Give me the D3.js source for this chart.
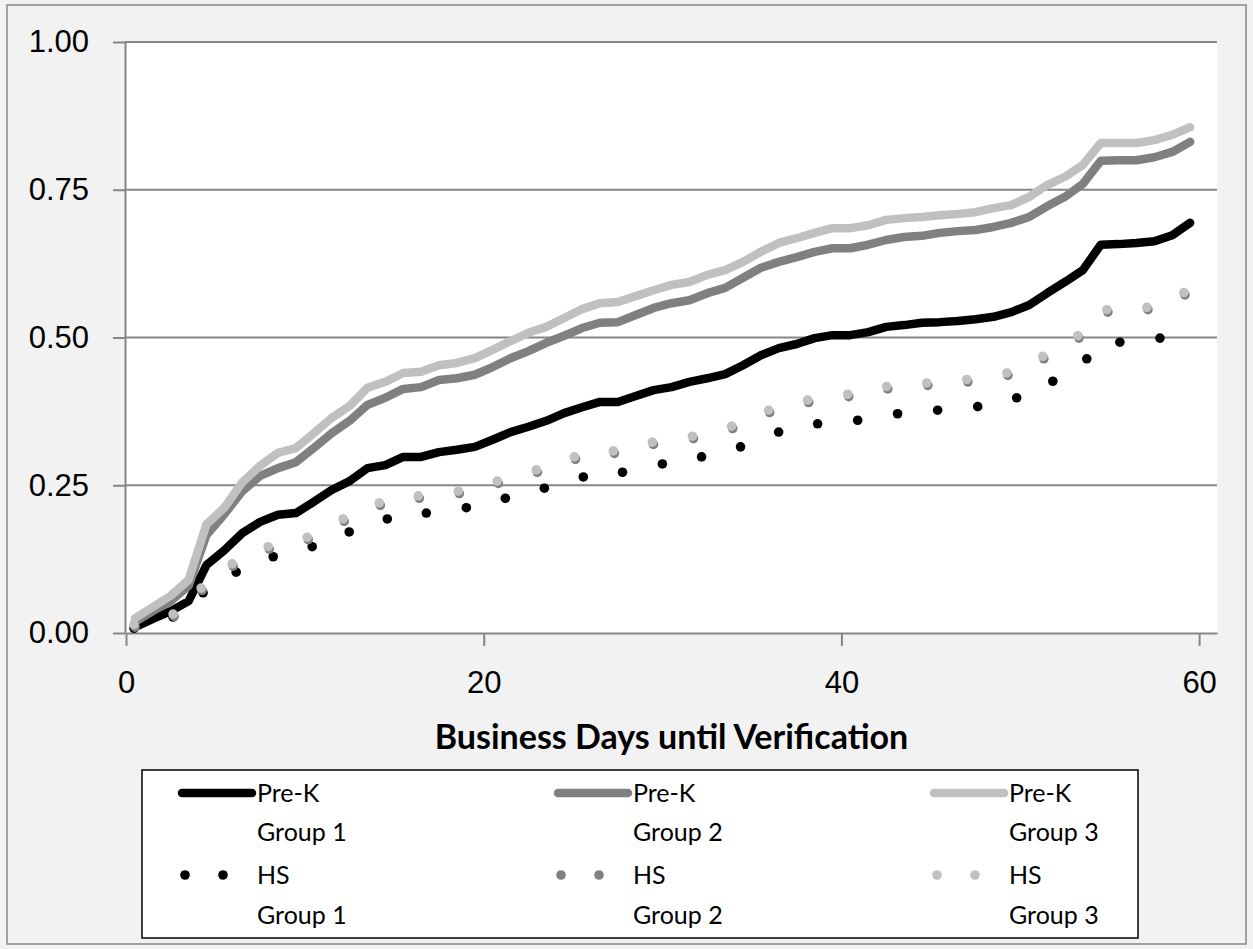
<!DOCTYPE html>
<html>
<head>
<meta charset="utf-8">
<script src="https://cdn.jsdelivr.net/npm/d3@7"></script>
<style>
  body { margin: 0; background: #f2f2f2; }
  svg { display: block; font-family: Lato, "Open Sans", sans-serif; }
  .axis path, .axis line { stroke: #868686; stroke-width: 2; }
  .axis text { fill: #000; font-size: 31px; }
  .grid-line { stroke: #868686; stroke-width: 2; }
  .axis-label { font-size: 34px; font-weight: bold; }
  .legend-text { font-size: 25px; }
</style>
</head>
<body>
<svg id="chart"></svg>
<script>
const chartWidth = 1253;
const chartHeight = 949;
const margin = {top: 42, right: 36, bottom: 316, left: 126};
const innerWidth = chartWidth - margin.left - margin.right;
const innerHeight = chartHeight - margin.top - margin.bottom;

const X_LABEL = "Business Days until Verification";
const X_TICKS = [0, 20, 40, 60];
const Y_TICKS = [0, 0.25, 0.5, 0.75, 1];

// business-day positions of the Pre-K lines
const days = [0.5, 1.5, 2.5, 3.5, 4.5, 5.5, 6.5, 7.5, 8.5, 9.5,
    10.5, 11.5, 12.5, 13.5, 14.5, 15.5, 16.5, 17.5, 18.5, 19.5,
    20.5, 21.5, 22.5, 23.5, 24.5, 25.5, 26.5, 27.5, 28.5, 29.5,
    30.5, 31.5, 32.5, 33.5, 34.5, 35.5, 36.5, 37.5, 38.5, 39.5,
    40.5, 41.5, 42.5, 43.5, 44.5, 45.5, 46.5, 47.5, 48.5, 49.5,
    50.5, 51.5, 52.5, 53.5, 54.5, 55.5, 56.5, 57.5, 58.5, 59.5];

const preKGroup1 = [0.010, 0.024, 0.037, 0.054, 0.115, 0.140, 0.169, 0.188, 0.200, 0.203,
    0.222, 0.242, 0.257, 0.279, 0.284, 0.298, 0.298, 0.306, 0.310, 0.315,
    0.327, 0.340, 0.349, 0.359, 0.372, 0.382, 0.391, 0.391, 0.401, 0.411,
    0.416, 0.425, 0.431, 0.438, 0.453, 0.470, 0.482, 0.489, 0.499, 0.504,
    0.504, 0.509, 0.518, 0.521, 0.525, 0.526, 0.528, 0.531, 0.535, 0.543,
    0.555, 0.575, 0.594, 0.614, 0.657, 0.658, 0.660, 0.663, 0.673, 0.694];

const preKGroup2 = [0.019, 0.037, 0.054, 0.080, 0.166, 0.201, 0.240, 0.266, 0.279, 0.289,
    0.313, 0.338, 0.359, 0.386, 0.398, 0.413, 0.416, 0.428, 0.431, 0.437,
    0.450, 0.465, 0.477, 0.491, 0.503, 0.516, 0.525, 0.526, 0.538, 0.550,
    0.558, 0.563, 0.575, 0.584, 0.601, 0.618, 0.628, 0.636, 0.645, 0.651,
    0.651, 0.657, 0.665, 0.670, 0.672, 0.677, 0.680, 0.682, 0.687, 0.694,
    0.704, 0.722, 0.738, 0.760, 0.799, 0.800, 0.800, 0.805, 0.814, 0.831];

const preKGroup3 = [0.025, 0.044, 0.063, 0.090, 0.184, 0.212, 0.255, 0.283, 0.305, 0.313,
    0.338, 0.364, 0.384, 0.415, 0.425, 0.440, 0.442, 0.453, 0.457, 0.465,
    0.479, 0.494, 0.508, 0.518, 0.533, 0.548, 0.558, 0.560, 0.570, 0.580,
    0.589, 0.594, 0.606, 0.614, 0.628, 0.645, 0.660, 0.668, 0.677, 0.685,
    0.685, 0.690, 0.699, 0.702, 0.704, 0.707, 0.709, 0.712, 0.719, 0.724,
    0.738, 0.758, 0.772, 0.792, 0.829, 0.829, 0.829, 0.834, 0.843, 0.856];

// HS series are shown as round dots
const hsGroup1Days = [0.45, 2.63, 4.31, 6.16, 8.23, 10.41, 12.48, 14.61, 16.79, 19.03,
    21.21, 23.39, 25.57, 27.76, 29.99, 32.18, 34.36, 36.49, 38.67, 40.91,
    43.14, 45.38, 47.62, 49.80, 51.82, 53.72, 55.57, 57.81];
const hsGroup1 = [0.008, 0.027, 0.068, 0.103, 0.129, 0.146, 0.171, 0.193, 0.203, 0.212,
    0.228, 0.245, 0.264, 0.272, 0.286, 0.298, 0.315, 0.340, 0.354, 0.360,
    0.371, 0.377, 0.383, 0.398, 0.426, 0.464, 0.492, 0.499];

const hsGroup2Days = [0.51, 2.69, 4.26, 5.99, 8.01, 10.19, 12.20, 14.22, 16.40, 18.64,
    20.82, 23.00, 25.13, 27.31, 29.49, 31.73, 33.92, 35.99, 38.17, 40.41,
    42.59, 44.83, 47.07, 49.31, 51.32, 53.28, 54.90, 57.14, 59.21];
const hsGroup2 = [0.010, 0.028, 0.072, 0.113, 0.142, 0.158, 0.189, 0.216, 0.228, 0.236,
    0.253, 0.272, 0.294, 0.304, 0.319, 0.329, 0.346, 0.373, 0.390, 0.400,
    0.413, 0.419, 0.425, 0.436, 0.464, 0.499, 0.543, 0.547, 0.572];

const hsGroup3Days = [0.45, 2.63, 4.20, 5.93, 7.95, 10.13, 12.14, 14.16, 16.34, 18.58,
    20.76, 22.94, 25.07, 27.25, 29.43, 31.67, 33.86, 35.93, 38.11, 40.35,
    42.53, 44.77, 47.01, 49.25, 51.26, 53.22, 54.84, 57.08, 59.15];
const hsGroup3 = [0.014, 0.032, 0.076, 0.117, 0.146, 0.162, 0.193, 0.220, 0.232, 0.240,
    0.257, 0.276, 0.298, 0.308, 0.323, 0.333, 0.350, 0.377, 0.394, 0.404,
    0.417, 0.423, 0.429, 0.440, 0.468, 0.503, 0.547, 0.551, 0.576];

const lineSeries = [
    {name: ["Pre-K", "Group 1"], color: "#000000", values: preKGroup1},
    {name: ["Pre-K", "Group 2"], color: "#808080", values: preKGroup2},
    {name: ["Pre-K", "Group 3"], color: "#c0c0c0", values: preKGroup3}
];
const dotSeries = [
    {name: ["HS", "Group 1"], color: "#000000", days: hsGroup1Days, values: hsGroup1},
    {name: ["HS", "Group 2"], color: "#808080", days: hsGroup2Days, values: hsGroup2},
    {name: ["HS", "Group 3"], color: "#c0c0c0", days: hsGroup3Days, values: hsGroup3}
];

const LINE_WIDTH = 8.5;
const DOT_RADIUS = 4.8;

let xScale = d3.scaleLinear().domain([0, 61]).range([0, innerWidth]);
let yScale = d3.scaleLinear().domain([0, 1]).range([innerHeight, 0]);

let chartSvg = d3.select("#chart")
    .attr("width", chartWidth)
    .attr("height", chartHeight);

chartSvg.append("rect")
    .attr("x", 0).attr("y", 0)
    .attr("width", chartWidth).attr("height", chartHeight)
    .attr("fill", "#f2f2f2");

// outer frame
chartSvg.append("rect")
    .attr("x", 7).attr("y", 5)
    .attr("width", 1239).attr("height", 939)
    .attr("fill", "none")
    .attr("stroke", "#868686")
    .attr("stroke-width", 1.5);

let chartG = chartSvg.append("g")
    .attr("transform", `translate(${margin.left}, ${margin.top})`);

chartG.append("rect")
    .attr("width", innerWidth)
    .attr("height", innerHeight)
    .attr("fill", "#ffffff");

chartG.selectAll(".grid-line")
    .data(Y_TICKS.filter(d => d > 0))
    .enter().append("line")
    .attr("class", "grid-line")
    .attr("x1", -1).attr("x2", innerWidth)
    .attr("y1", d => yScale(d)).attr("y2", d => yScale(d));

chartG.append("g")
    .attr("class", "axis")
    .attr("transform", "translate(-1,0)")
    .call(d3.axisLeft(yScale).tickValues(Y_TICKS).tickFormat(d3.format(".2f"))
        .tickSize(12).tickSizeOuter(0).tickPadding(24));

chartG.append("g")
    .attr("class", "axis")
    .attr("transform", `translate(0,${innerHeight})`)
    .call(d3.axisBottom(xScale).tickValues(X_TICKS)
        .tickSize(13).tickSizeOuter(0).tickPadding(25));

chartG.append("text")
    .attr("class", "axis-label")
    .attr("x", innerWidth / 2)
    .attr("y", innerHeight + 116)
    .attr("text-anchor", "middle")
    .text(X_LABEL);

let line = d3.line()
    .x((d, i) => xScale(days[i]))
    .y(d => yScale(d));

for (let s of lineSeries) {
    chartG.append("path")
        .datum(s.values)
        .attr("class", "plot-line")
        .attr("fill", "none")
        .attr("stroke", s.color)
        .attr("stroke-width", LINE_WIDTH)
        .attr("stroke-linejoin", "round")
        .attr("stroke-linecap", "round")
        .attr("d", line);
}

for (let s of dotSeries) {
    chartG.append("g")
        .selectAll("circle")
        .data(s.values)
        .enter().append("circle")
        .attr("cx", (d, i) => xScale(s.days[i]))
        .attr("cy", d => yScale(d))
        .attr("r", DOT_RADIUS)
        .attr("fill", s.color);
}

// legend
const legendBox = {x: 142, y: 770, w: 996, h: 168};
const colStep = 376;
let legendG = chartSvg.append("g");
legendG.append("rect")
    .attr("x", legendBox.x).attr("y", legendBox.y)
    .attr("width", legendBox.w).attr("height", legendBox.h)
    .attr("fill", "#ffffff")
    .attr("stroke", "#000000")
    .attr("stroke-width", 1.5);

lineSeries.forEach((s, i) => {
    let x0 = 178 + i * colStep;
    legendG.append("line")
        .attr("x1", x0 + 4).attr("x2", x0 + 74)
        .attr("y1", 793).attr("y2", 793)
        .attr("stroke", s.color)
        .attr("stroke-width", LINE_WIDTH)
        .attr("stroke-linecap", "round");
    s.name.forEach((t, j) => {
        legendG.append("text")
            .attr("class", "legend-text")
            .attr("x", x0 + 79)
            .attr("y", 802 + j * 39)
            .text(t);
    });
});

dotSeries.forEach((s, i) => {
    let x0 = 178 + i * colStep;
    legendG.selectAll(null)
        .data([7, 45])
        .enter().append("circle")
        .attr("cx", d => x0 + d)
        .attr("cy", 875)
        .attr("r", DOT_RADIUS)
        .attr("fill", s.color);
    s.name.forEach((t, j) => {
        legendG.append("text")
            .attr("class", "legend-text")
            .attr("x", x0 + 79)
            .attr("y", 884 + j * 40)
            .text(t);
    });
});
</script>
</body>
</html>
